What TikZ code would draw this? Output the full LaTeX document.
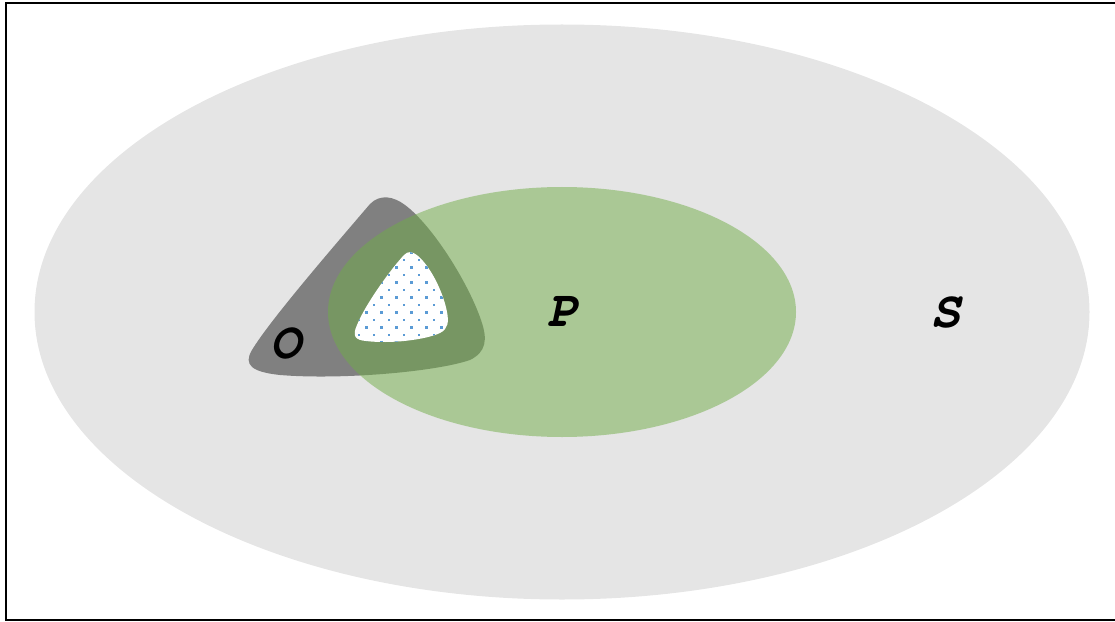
\documentclass[tikz,border=0pt]{standalone}
\usepackage[T1]{fontenc}
\usepackage{courier}
\usepackage{tikz}
\definecolor{vennGrey}{HTML}{E5E5E5}
\definecolor{vennDark}{HTML}{808080}
\definecolor{vennGreen}{HTML}{70AD47}
\definecolor{vennDot}{HTML}{5B9BD5}
\tikzset{setlabel/.style={font=\ttfamily\bfseries\itshape\fontsize{44}{44}\selectfont}}

\begin{document}
\begin{tikzpicture}[x=0.03cm, y=-0.03cm]
            \useasboundingbox (0,0) rectangle (1115,622);
            \fill[vennGrey] (562,312) ellipse [x radius=527.5, y radius=287.5];
            \fill[vennDark] (370,204) .. controls (335,245) and (270,320) .. (252,350)
                .. controls (243,365) and (252,372) .. (280,375)
                .. controls (340,380) and (435,372) .. (470,360)
                .. controls (486,352) and (488,340) .. (481,320)
                .. controls (468,282) and (432,225) .. (405,205)
                .. controls (393,196) and (380,194) .. cycle;
            \fill[vennGreen, opacity=0.5] (562,312) ellipse [x radius=234, y radius=125];
            \fill[white] (404,255) .. controls (390,270) and (365,305) .. (357,325)
                .. controls (352,336) and (355,340) .. (366,341)
                .. controls (390,344) and (425,340) .. (440,333)
                .. controls (448,329) and (449,322) .. (447,312)
                .. controls (444,295) and (432,268) .. (418,256)
                .. controls (412,251) and (408,251) .. cycle;
            \begin{scope}
                \clip (404,255) .. controls (390,270) and (365,305) .. (357,325)
                    .. controls (352,336) and (355,340) .. (366,341)
                    .. controls (390,344) and (425,340) .. (440,333)
                    .. controls (448,329) and (449,322) .. (447,312)
                    .. controls (444,295) and (432,268) .. (418,256)
                    .. controls (412,251) and (408,251) .. cycle;
                \foreach \j in {0,...,13}
                    \foreach \i in {0,...,7}
                        \fill[vennDot] ({350+15*\i+7.5*mod(\j,2)},{251+7.5*\j}) rectangle +(2.6,2.6);
            \end{scope}
            \node[setlabel] (O) at (286,344) {O};
            \node[setlabel] (P) at (563,312) {P};
            \node[setlabel] (S) at (946,313) {S};
            \draw[line width=1.7pt] (1125,3) -- (6,3) -- (6,620) -- (1125,620);
        \end{tikzpicture}
\end{document}
